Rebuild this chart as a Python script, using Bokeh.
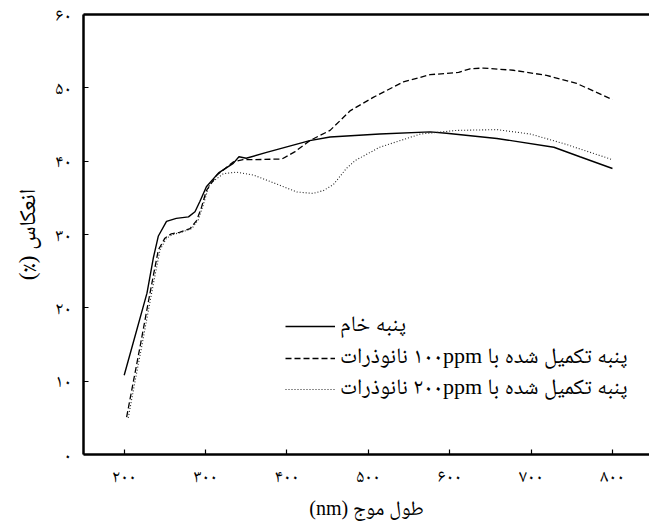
from bokeh.plotting import figure
from bokeh.models import LinearAxis, Legend, LegendItem, FixedTicker, Range1d
from bokeh.embed import file_html
from bokeh.resources import INLINE

# ---- data ----
wl_raw = [200, 215, 228, 236, 242, 252, 264, 279, 287, 293, 301, 316, 334, 341, 350, 375, 428, 453, 514, 576, 596, 658, 728, 760, 800]
refl_raw = [10.8, 16.8, 22.0, 26.9, 29.8, 31.8, 32.2, 32.4, 33.1, 34.5, 36.5, 38.4, 39.7, 40.6, 40.4, 41.2, 42.8, 43.3, 43.7, 44.0, 43.8, 43.1, 41.9, 40.6, 39.0]

wl_100 = [203, 210, 220, 230, 236, 242, 250, 258, 268, 281, 289, 295, 301, 314, 334, 346, 359, 394, 410, 428, 453, 478, 506, 543, 576, 611, 625, 641, 678, 719, 756, 800]
refl_100 = [5.1, 9.2, 15.0, 21.0, 24.5, 27.9, 29.5, 30.1, 30.3, 30.8, 31.9, 33.7, 36.0, 38.1, 39.9, 40.2, 40.2, 40.3, 41.3, 42.8, 44.2, 46.9, 48.7, 50.8, 51.8, 52.1, 52.6, 52.7, 52.4, 51.7, 50.6, 48.4]

wl_200 = [205, 212, 222, 232, 238, 244, 252, 260, 270, 283, 291, 297, 305, 322, 338, 359, 387, 412, 432, 445, 457, 473, 484, 514, 564, 609, 658, 699, 740, 800]
refl_200 = [5.0, 9.2, 15.0, 21.0, 24.5, 27.9, 29.5, 30.0, 30.3, 30.8, 32.0, 34.0, 36.9, 38.3, 38.5, 38.1, 36.9, 35.8, 35.6, 36.0, 36.8, 39.0, 40.1, 41.9, 43.7, 44.2, 44.3, 43.7, 42.4, 40.2]

x_ticks = [200, 300, 400, 500, 600, 700, 800]
x_tick_labels = ["۲۰۰", "۳۰۰", "۴۰۰", "۵۰۰", "۶۰۰", "۷۰۰", "۸۰۰"]
y_ticks = [0, 10, 20, 30, 40, 50, 60]
y_tick_labels = ["۰", "۱۰", "۲۰", "۳۰", "۴۰", "۵۰", "۶۰"]

series_labels = ["پنبه خام", "پنبه تکمیل شده با ۱۰۰ppm نانوذرات", "پنبه تکمیل شده با ۲۰۰ppm نانوذرات"]
x_label = "طول موج (nm)"
y_label = "انعکاس (٪)"

RLE, PDF = "\u202b", "\u202c"
def rtl(s):
    return RLE + s + PDF

FONT = "'Liberation Serif', 'Noto Naskh Arabic'"

p = figure(width=649, height=527, output_backend="svg", toolbar_location=None,
           x_range=Range1d(150, 845.5), y_range=Range1d(0, 60),
           min_border_left=83, min_border_right=0, min_border_top=14, min_border_bottom=73,
           outline_line_color=None)
p.grid.visible = False
p.background_fill_color = "white"

for ax, ticks, labels in ((p.xaxis[0], x_ticks, x_tick_labels), (p.yaxis[0], y_ticks, y_tick_labels)):
    ax.ticker = FixedTicker(ticks=ticks)
    ax.major_label_overrides = {t: l for t, l in zip(ticks, labels)}
    ax.major_tick_in = 5
    ax.major_tick_out = 0
    ax.minor_tick_in = 0
    ax.minor_tick_out = 0
    ax.axis_line_width = 2.5
    ax.axis_line_color = "black"
    ax.major_tick_line_color = "black"
    ax.major_tick_line_width = 1.2
    ax.major_label_text_font = FONT
    ax.major_label_text_font_size = "18px"
    ax.major_label_text_color = "black"
    ax.axis_label_text_font = FONT
    ax.axis_label_text_font_style = "normal"
    ax.axis_label_text_color = "black"

p.xaxis[0].axis_label = rtl(x_label)
p.xaxis[0].axis_label_text_font_size = "20px"
p.xaxis[0].major_label_standoff = 11
p.xaxis[0].axis_label_standoff = 8
p.yaxis[0].axis_label = rtl(y_label)
p.yaxis[0].axis_label_text_font_size = "23px"
p.yaxis[0].major_label_standoff = 12
p.yaxis[0].axis_label_standoff = 12

top = LinearAxis(axis_line_width=2.5, axis_line_color="black",
                 major_tick_in=0, major_tick_out=0, minor_tick_in=0, minor_tick_out=0,
                 major_label_text_font_size="0px", ticker=FixedTicker(ticks=[]))
p.add_layout(top, "above")

r1 = p.line(wl_raw, refl_raw, line_color="black", line_width=1.4)
r2 = p.line(wl_100, refl_100, line_color="black", line_width=1.3, line_dash="6 3")
r3 = p.line(wl_200, refl_200, line_color="#222222", line_width=1.1, line_dash="1 2")

# one legend box per row so that rows sit 32 px apart
for r, lab, yoff in ((r1, series_labels[0], 109), (r2, series_labels[1], 77), (r3, series_labels[2], 46)):
    lg = Legend(items=[LegendItem(label=rtl(lab), renderers=[r])],
                location=(202, yoff), padding=0, spacing=0,
                glyph_width=50, glyph_height=24, label_height=24, label_standoff=5,
                border_line_color=None, background_fill_alpha=0,
                label_text_font=FONT, label_text_font_size="22px", label_text_color="black")
    p.add_layout(lg, "center")

open("out.html", "w").write(file_html(p, INLINE))
